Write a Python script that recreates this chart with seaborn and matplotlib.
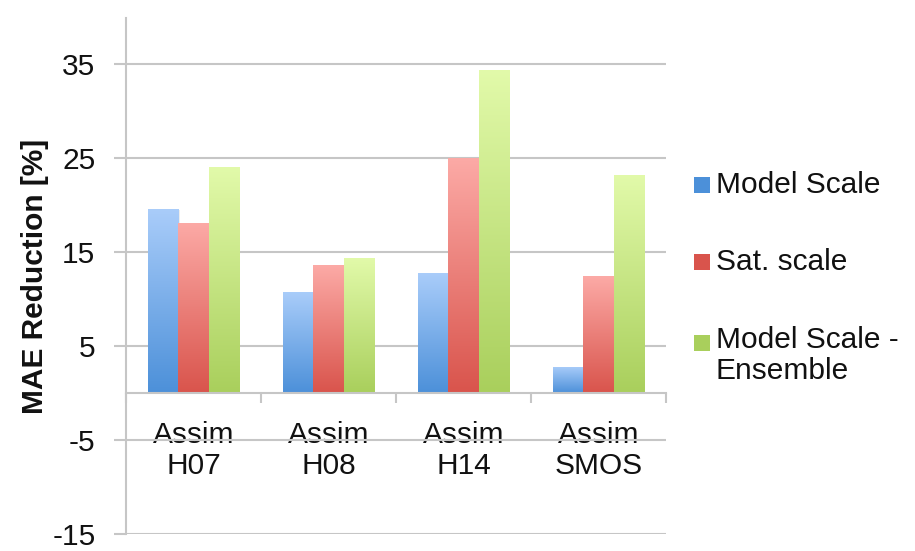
import numpy as np
import pandas as pd
import matplotlib
matplotlib.use("Agg")
import matplotlib.pyplot as plt
from matplotlib.colors import LinearSegmentedColormap
from matplotlib.patches import Rectangle
import seaborn as sns

# Data
categories = ["Assim\nH07", "Assim\nH08", "Assim\nH14", "Assim\nSMOS"]
series = ["Model Scale", "Sat. scale", "Model Scale -\nEnsemble"]
model_scale = [19.6, 10.8, 12.8, 2.8]
sat_scale = [18.1, 13.6, 25.0, 12.4]
model_ensemble = [24.1, 14.4, 34.4, 23.2]
y_ticks = [-15, -5, 5, 15, 25, 35]

# Gradient colours per series (top, bottom)
grad_top = ["#aacdfa", "#fcaaa6", "#e2faaa"]
grad_bottom = ["#4c90d9", "#d9544c", "#a9cf5c"]

df = pd.DataFrame({
    "category": np.repeat(categories, 3),
    "series": series * len(categories),
    "value": np.ravel(np.column_stack([model_scale, sat_scale, model_ensemble])),
})

sns.set_theme(style="white")
plt.rcParams["font.family"] = ["Liberation Sans", "DejaVu Sans"]

fig = plt.figure(figsize=(9.15, 5.51), dpi=100)
ax = fig.add_axes([126 / 915, 1 - 534 / 551, (666 - 126) / 915, (534 - 18) / 551])

sns.barplot(data=df, x="category", y="value", hue="series", order=categories,
            hue_order=series, palette=grad_bottom, width=0.667, gap=0,
            edgecolor="none", linewidth=0, legend=False, ax=ax, zorder=3)

ax.set_xlim(-0.5, 3.5)
ax.set_ylim(-15, 39.9)

# Replace flat fills with vertical gradients
grad = np.linspace(1, 0, 256).reshape(-1, 1)
for i, container in enumerate(ax.containers):
    cmap = LinearSegmentedColormap.from_list(f"g{i}", [grad_bottom[i], grad_top[i]])
    for bar in container:
        x0, y0 = bar.get_x(), bar.get_y()
        w, h = bar.get_width(), bar.get_height()
        bar.set_facecolor("none")
        # soft shadow
        sh = Rectangle((x0 + 0.012, y0 - 0.15), w, h, facecolor="#000000",
                       alpha=0.07, edgecolor="none", zorder=2.5)
        ax.add_patch(sh)
        im = ax.imshow(grad, extent=[x0, x0 + w, y0, y0 + h], aspect="auto",
                       cmap=cmap, vmin=0, vmax=1, zorder=3, interpolation="bicubic")
        im.set_clip_path(bar)

ax.set_xlim(-0.5, 3.5)
ax.set_ylim(-15, 39.9)

grid_c = "#c6c6c6"
ax.set_yticks(y_ticks)
ax.set_yticklabels([str(t) for t in y_ticks])
for t in y_ticks:
    ax.axhline(t, color=grid_c, lw=1.5, zorder=1)

# Category axis sits at zero
for s in ["top", "right"]:
    ax.spines[s].set_visible(False)
ax.spines["bottom"].set_position(("data", 0))
ax.spines["bottom"].set_color(grid_c)
ax.spines["bottom"].set_linewidth(1.5)
ax.spines["bottom"].set_zorder(4)
ax.spines["left"].set_color(grid_c)
ax.spines["left"].set_linewidth(1.5)
ax.set_xticks([-0.5, 0.5, 1.5, 2.5, 3.5], minor=True)
ax.tick_params(axis="x", which="minor", length=7, width=1.5, color=grid_c,
               direction="out", bottom=True)
ax.tick_params(axis="y", length=9, width=1.5, color=grid_c, pad=13,
               labelsize=21.5, labelcolor="#111111", left=True)
ax.tick_params(axis="x", which="major", length=0, pad=20, labelsize=21.5,
               labelcolor="#111111")
for lbl in ax.get_xticklabels():
    lbl.set_linespacing(1.15)
ax.set_xlabel("")
ax.set_ylabel("MAE Reduction [%]", fontsize=21.5, fontweight="bold", color="#111111")
ax.yaxis.set_label_coords(-0.142, 0.5)

# Legend
leg_items = [(185, "Model Scale"), (262, "Sat. scale"), (343, "Model Scale -\nEnsemble")]
for i, (ypix, text) in enumerate(leg_items):
    yf = 1 - ypix / 551
    fig.patches.append(Rectangle((694 / 915, yf - 8 / 551), 16 / 915, 16 / 551,
                                 transform=fig.transFigure, facecolor=grad_bottom[i],
                                 edgecolor="none"))
    if "\n" in text:
        fig.text(716 / 915, yf + 17 / 551, text, fontsize=21.5, color="#111111",
                 va="top", ha="left", linespacing=1.15)
    else:
        fig.text(716 / 915, yf, text, fontsize=21.5, color="#111111",
                 va="center", ha="left")

fig.savefig("out.png", dpi=100)
